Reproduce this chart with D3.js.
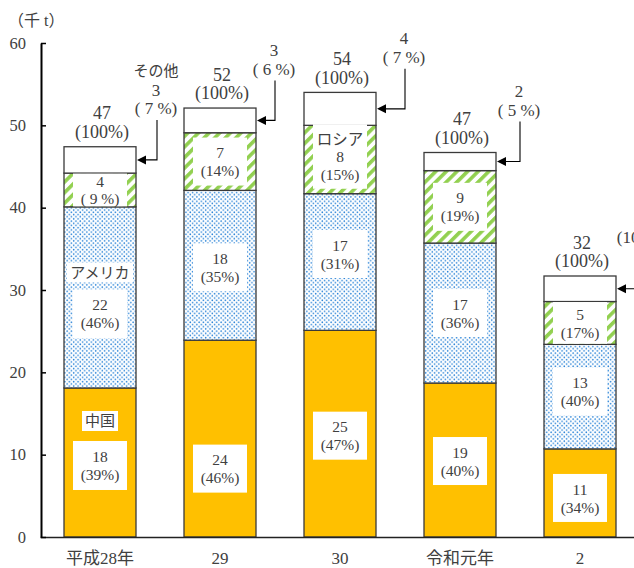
<!DOCTYPE html>
<html>
<head>
<meta charset="utf-8">
<script src="https://cdn.jsdelivr.net/npm/d3@7"></script>
<style>
  body { margin: 0; background: #fff; }
  svg { display: block; }
  text { white-space: pre; }
</style>
</head>
<body>
<svg id="chart" width="634" height="568"></svg>
<script>
// data (thousand tonnes)
const years = ["平成28年", "29", "30", "令和元年", "2"];
const china = [18.1, 23.9, 25.1, 18.7, 10.7];
const usa = [22.0, 18.2, 16.6, 17.0, 12.7];
const russia = [4.1, 7.0, 8.3, 8.8, 5.2];
const other = [3.2, 3.0, 4.0, 2.2, 3.1];
const pctChina = [39, 46, 47, 40, 34];
const pctUsa = [46, 35, 31, 36, 40];
const pctRussia = [9, 14, 15, 19, 17];
const pctOther = [7, 6, 7, 5, 10];
const yTicks = [0, 10, 20, 30, 40, 50, 60];
const keys = ["china", "usa", "russia", "other"];
const seriesNames = { china: "中国", usa: "アメリカ", russia: "ロシア", other: "その他" };
const nameAt = { china: 0, usa: 0, russia: 2, other: 0 };
const pcts = { china: pctChina, usa: pctUsa, russia: pctRussia, other: pctOther };

// layout tweaks for the inner labels (px)
const labelShift = { china: [-12, 30, 2, 1, 5], usa: [3, 2, -8, 0, -5], russia: [0, 0, -3, 0, 0] };
const otherOffset = [20, 18, 28, 23, 22];

const FONT = '"Liberation Serif", "Noto Sans CJK JP", serif';
const INK = "#404040";

const svg = d3.select("#chart")
  .attr("font-family", FONT);

const x = d3.scaleBand().domain(years).range([40, 640]).paddingInner(0.4).paddingOuter(0.2);
const y = d3.scaleLinear().domain([0, 60]).range([537, 43]);

const rows = years.map((yr, i) => ({
  year: yr, china: china[i], usa: usa[i], russia: russia[i], other: other[i]
}));
const stacked = d3.stack().keys(keys)(rows);

// patterns
const defs = svg.append("defs");
const dots = defs.append("pattern").attr("id", "dots")
  .attr("patternUnits", "userSpaceOnUse").attr("width", 4.4).attr("height", 4.4);
dots.append("rect").attr("width", 4.4).attr("height", 4.4).attr("fill", "#fff");
dots.append("circle").attr("cx", 1.1).attr("cy", 1.1).attr("r", 0.8).attr("fill", "#2a84d8");
dots.append("circle").attr("cx", 3.3).attr("cy", 3.3).attr("r", 0.8).attr("fill", "#2a84d8");

const stripes = defs.append("pattern").attr("id", "stripes")
  .attr("patternUnits", "userSpaceOnUse").attr("width", 7.5).attr("height", 7.5)
  .attr("patternTransform", "rotate(45)");
stripes.append("rect").attr("width", 7.5).attr("height", 7.5).attr("fill", "#fff");
stripes.append("rect").attr("width", 3.6).attr("height", 7.5).attr("fill", "#92d050");

const fills = { china: "#ffc000", usa: "url(#dots)", russia: "url(#stripes)", other: "#fff" };

// bars
const barG = svg.append("g");
barG.selectAll("g.series")
  .data(stacked)
  .join("g")
  .attr("class", "series")
  .selectAll("rect")
  .data((s) => s.map((d) => Object.assign(d, { key: s.key })))
  .join("rect")
  .attr("x", (d) => x(d.data.year))
  .attr("width", x.bandwidth())
  .attr("y", (d) => y(d[1]))
  .attr("height", (d) => y(d[0]) - y(d[1]))
  .attr("fill", (d) => fills[d.key])
  .attr("stroke", "#3a3a3a")
  .attr("stroke-width", 1.3);

function pctText(p) {
  return p < 10 ? `( ${p} %)` : `(${p}%)`;
}

function box(g, cx, cy, w, h) {
  g.append("rect")
    .attr("x", cx - w / 2).attr("y", cy - h / 2)
    .attr("width", w).attr("height", h)
    .attr("fill", "#fff");
}

function lines(g, cx, cy, list, lh, size) {
  list.forEach((t, i) => {
    g.append("text")
      .attr("x", cx)
      .attr("y", cy + (i - (list.length - 1) / 2) * lh)
      .attr("dy", "0.36em")
      .attr("text-anchor", "middle")
      .attr("font-size", size)
      .attr("fill", INK)
      .text(t);
  });
}

// inner labels
const labelG = svg.append("g");
stacked.forEach((s) => {
  if (s.key === "other") return;
  s.forEach((d, i) => {
    const cx = x(d.data.year) + x.bandwidth() / 2;
    const top = y(d[1]), bot = y(d[0]);
    const mid = (top + bot) / 2 + (labelShift[s.key] ? labelShift[s.key][i] : 0);
    const txt = [d3.format(".0f")(d.data[s.key]), pctText(pcts[s.key][i])];
    const hasName = nameAt[s.key] === i;
    if (hasName && s.key !== "russia") {
      const name = seriesNames[s.key];
      const nameW = name.length * 15 + 6;
      const nameH = 20, gap = s.key === "china" ? 10 : 7, numH = 49;
      const total = nameH + gap + numH;
      const nameCy = mid - total / 2 + nameH / 2;
      const numCy = mid + total / 2 - numH / 2;
      box(labelG, cx, nameCy, nameW, nameH);
      lines(labelG, cx, nameCy, [name], 18, 15);
      box(labelG, cx, numCy, 54, numH);
      lines(labelG, cx, numCy, txt, 18, 15.5);
    } else {
      const list = hasName ? [seriesNames[s.key]].concat(txt) : txt;
      const lh = hasName ? 17.5 : 18;
      const h = Math.min(list.length * lh + 12, bot - top - 1);
      box(labelG, cx, mid, 54, h);
      lines(labelG, cx, mid, list, Math.min(lh, (h - 2) / list.length + 1), 15.5);
    }
  });
});

// totals above bars
const totG = svg.append("g");
const topLayer = stacked[stacked.length - 1];
topLayer.forEach((d) => {
  const cx = x(d.data.year) + x.bandwidth() / 2 + 2;
  const top = y(d[1]);
  lines(totG, cx, top - 24.5, [d3.format(".0f")(d[1]), "(100%)"], 18.5, 18);
});

// "other" callouts with arrows
const callG = svg.append("g");
topLayer.forEach((d, i) => {
  const right = x(d.data.year) + x.bandwidth();
  const ay = (y(d[0]) + y(d[1])) / 2;
  const lx = right + otherOffset[i];
  const pctY = ay - 52;
  const list = [d3.format(".0f")(d.data.other), pctText(pctOther[i])];
  if (nameAt.other === i) list.unshift(seriesNames.other);
  list.forEach((t, k) => {
    const ty = pctY - (list.length - 1 - k) * 18.5;
    callG.append("text")
      .attr("x", lx).attr("y", ty).attr("dy", "0.36em")
      .attr("text-anchor", "middle")
      .attr("font-size", k === 0 && list.length === 3 ? 15 : 17)
      .attr("fill", INK)
      .text(t);
  });
  callG.append("path")
    .attr("d", `M${lx + 1},${pctY + 12}V${ay}H${right + 9}`)
    .attr("fill", "none").attr("stroke", "#000").attr("stroke-width", 1.1);
  callG.append("path")
    .attr("d", `M${right + 1},${ay}L${right + 10},${ay - 4.5}L${right + 10},${ay + 4.5}Z`)
    .attr("fill", "#000");
});

// axes
const xAxis = svg.append("g")
  .attr("transform", `translate(0,${y(0)})`)
  .call(d3.axisBottom(x).tickSize(0).tickPadding(15))
  .attr("font-family", FONT).attr("font-size", 17);
xAxis.select(".domain").attr("stroke", "#222").attr("stroke-width", 1.6);
xAxis.selectAll("text").attr("fill", INK);

const yAxis = svg.append("g")
  .attr("transform", `translate(41,0)`)
  .call(d3.axisLeft(y).tickValues(yTicks).tickSizeInner(-5).tickSizeOuter(0).tickPadding(15))
  .attr("font-family", FONT).attr("font-size", 16.5);
yAxis.select(".domain").attr("stroke", "#000").attr("stroke-width", 2);
yAxis.selectAll(".tick line").attr("stroke", "#000").attr("stroke-width", 1.5);
yAxis.selectAll("text").attr("fill", INK);

svg.append("text")
  .attr("x", 8).attr("y", 20).attr("dy", "0.36em")
  .attr("font-size", 16)
  .attr("fill", INK)
  .text("（千 t）");
</script>
</body>
</html>
